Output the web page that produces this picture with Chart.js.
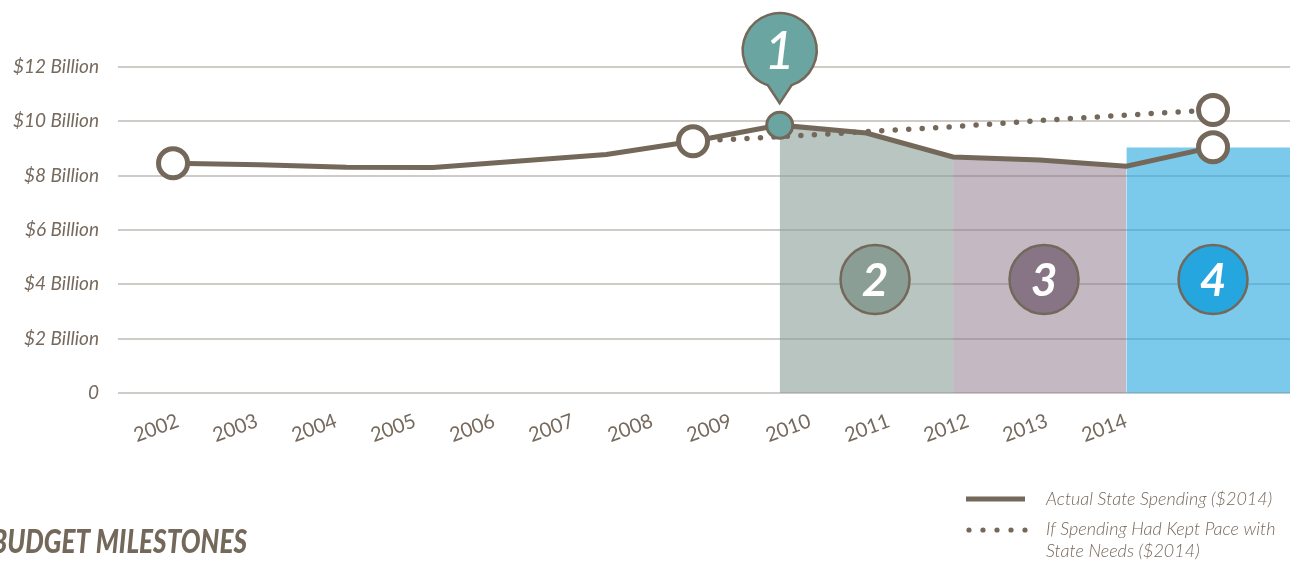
<!DOCTYPE html>
<html>
<head>
<meta charset="utf-8">
<title>State Spending</title>
<script src="https://cdn.jsdelivr.net/npm/chart.js@4.4.0/dist/chart.umd.min.js"></script>
<style>
  html, body { margin: 0; padding: 0; background: #fff; }
  #chart { display: block; }
</style>
</head>
<body>
<canvas id="chart" width="1290" height="563"></canvas>
<script>
// spending in billions of 2014 dollars
const years = [2002, 2003, 2004, 2005, 2006, 2007, 2008, 2009, 2010, 2011, 2012, 2013, 2014];
const actualSpending = [8.46, 8.40, 8.31, 8.30, 8.54, 8.78, 9.27, 9.86, 9.57, 8.69, 8.58, 8.35, 9.05];

// what spending would have been if it kept pace with needs
const needsYears = [2008, 2009, 2010, 2011, 2012, 2013, 2014];
const needsSpending = [9.27, 9.43, 9.62, 9.80, 10.03, 10.23, 10.42];

const yTicks = [0, 2, 4, 6, 8, 10, 12];
const yTickLabels = ['0', '$2 Billion', '$4 Billion', '$6 Billion', '$8 Billion', '$10 Billion', '$12 Billion'];

// milestone badges: 1 sits on 2009, 2-4 sit inside the shaded periods
const milestoneLabels = ['1', '2', '3', '4'];
const milestoneYears = [2009, 2010.1, 2012.05, 2014];
const milestoneColors = ['#6ba5a1', '#8b9e96', '#877585', '#25a6de'];
const badgeLevel = 4.18;

// shaded periods
const period2 = [2009, 2010, 2011];
const period3 = [2011, 2012, 2013];
const period4Start = 2013;
const period4Level = 9.04;

const BROWN = '#74685b';
const TEXT = '#76695d';

const pts = (ys) => ys.map(yr => ({ x: yr, y: actualSpending[years.indexOf(yr)] }));
const markerIdx = [0, 6, 7, 12];

const milestonePlugin = {
  id: 'milestones',
  afterDatasetsDraw(chart) {
    const { ctx, scales: { x, y } } = chart;
    ctx.save();
    milestoneLabels.forEach((label, i) => {
      const cx = x.getPixelForValue(milestoneYears[i]);
      let cy, r;
      ctx.beginPath();
      if (i === 0) {
        // balloon pointing at the 2009 point
        const py = y.getPixelForValue(actualSpending[years.indexOf(milestoneYears[0])]);
        const tip = py - 22;
        r = 37;
        cy = tip - 53;
        const a1 = Math.atan2(35, 12), a2 = Math.atan2(35, -12);
        ctx.moveTo(cx, tip);
        ctx.lineTo(cx + r * Math.cos(a1), cy + r * Math.sin(a1));
        ctx.arc(cx, cy, r, a1, a2, true);
        ctx.closePath();
      } else {
        r = 34.5;
        cy = y.getPixelForValue(badgeLevel);
        ctx.arc(cx, cy, r, 0, Math.PI * 2);
      }
      ctx.fillStyle = milestoneColors[i];
      ctx.fill();
      ctx.lineWidth = 2.5;
      ctx.strokeStyle = BROWN;
      ctx.stroke();

      ctx.fillStyle = '#fff';
      ctx.textAlign = 'center';
      ctx.textBaseline = 'middle';
      ctx.font = i === 0 ? 'italic 500 52px Lato' : 'italic bold 46px Lato';
      ctx.fillText(label, cx, cy + 2);
    });
    ctx.restore();
  },
  afterDraw(chart) {
    const { ctx } = chart;
    ctx.save();
    // legend
    ctx.strokeStyle = BROWN;
    ctx.lineWidth = 5;
    ctx.beginPath();
    ctx.moveTo(966, 499);
    ctx.lineTo(1025, 499);
    ctx.stroke();
    ctx.fillStyle = BROWN;
    for (let k = 0; k < 5; k++) {
      ctx.beginPath();
      ctx.arc(969 + k * 14, 530, 2.6, 0, Math.PI * 2);
      ctx.fill();
    }
    ctx.fillStyle = TEXT;
    ctx.font = 'italic 300 18px Lato';
    ctx.textAlign = 'left';
    ctx.textBaseline = 'middle';
    ctx.fillText('Actual State Spending ($2014)', 1046, 499);
    ctx.fillText('If Spending Had Kept Pace with', 1046, 529);
    ctx.fillText('State Needs ($2014)', 1046, 551);

    // section heading, cut at the left edge
    ctx.font = 'italic 900 32px Lato';
    ctx.textAlign = 'right';
    ctx.textBaseline = 'alphabetic';
    const w = ctx.measureText('BUDGET MILESTONES').width;
    ctx.translate(247, 553);
    ctx.scale(256 / w, 1);
    ctx.fillStyle = BROWN;
    ctx.fillText('BUDGET MILESTONES', 0, 0);
    ctx.restore();
  }
};

const ctx = document.getElementById('chart').getContext('2d');
const chart = new Chart(ctx, {
  type: 'line',
  data: {
    datasets: [
      {
        label: 'Actual State Spending ($2014)',
        data: years.map((yr, i) => ({ x: yr, y: actualSpending[i] })),
        borderColor: BROWN,
        borderWidth: 5,
        tension: 0,
        pointRadius: c => markerIdx.includes(c.dataIndex) ? (c.dataIndex === 7 ? 13 : 14.5) : 0,
        pointBorderWidth: c => c.dataIndex === 7 ? 3 : 5,
        pointBackgroundColor: c => c.dataIndex === 7 ? milestoneColors[0] : '#fff',
        pointBorderColor: BROWN,
        clip: false
      },
      {
        label: 'If Spending Had Kept Pace with State Needs ($2014)',
        data: needsYears.map((yr, i) => ({ x: yr, y: needsSpending[i] })),
        borderColor: BROWN,
        borderWidth: 5.5,
        borderDash: [0, 13.5],
        borderCapStyle: 'round',
        tension: 0,
        pointRadius: c => c.dataIndex === needsYears.length - 1 ? 14.5 : 0,
        pointBorderWidth: 5,
        pointBackgroundColor: '#fff',
        pointBorderColor: BROWN,
        clip: false
      },
      {
        data: pts(period2),
        borderWidth: 0,
        pointRadius: 0,
        fill: 'origin',
        backgroundColor: 'rgba(138,158,150,0.6)'
      },
      {
        data: pts(period3),
        borderWidth: 0,
        pointRadius: 0,
        fill: 'origin',
        backgroundColor: 'rgba(137,115,133,0.5)'
      },
      {
        data: [{ x: period4Start, y: period4Level }, { x: 2016, y: period4Level }],
        borderWidth: 0,
        pointRadius: 0,
        fill: 'origin',
        backgroundColor: 'rgba(37,167,222,0.6)'
      }
    ]
  },
  options: {
    responsive: false,
    animation: false,
    layout: { autoPadding: false, padding: { top: 67, left: 0, right: 0, bottom: 0 } },
    plugins: {
      legend: { display: false },
      tooltip: { enabled: false }
    },
    scales: {
      x: {
        type: 'linear',
        min: 2001.365,
        max: 2014.888,
        display: false
      },
      // year labels sit on their own scale
      xl: {
        type: 'linear',
        position: 'bottom',
        min: 2001.24,
        max: 2016.075,
        grid: { display: false, drawTicks: false },
        border: { display: false },
        afterBuildTicks: s => { s.ticks = years.map(v => ({ value: v })); },
        afterFit: s => {
          s.height = 170;
          s.paddingLeft = 0;
          s.paddingRight = 0;
        },
        ticks: {
          autoSkip: false,
          minRotation: 20,
          maxRotation: 20,
          padding: 16,
          color: TEXT,
          font: { family: 'Lato', size: 20, weight: 400 },
          callback: v => String(v)
        }
      },
      y: {
        min: 0,
        max: 12,
        afterBuildTicks: s => { s.ticks = yTicks.map(v => ({ value: v })); },
        afterFit: s => {
          s.width = 118;
          s.paddingTop = 0;
          s.paddingBottom = 0;
        },
        grid: { color: '#cfcbc7', lineWidth: 2, drawTicks: false },
        border: { display: false },
        ticks: {
          padding: 19,
          color: TEXT,
          font: { family: 'Lato', size: 19, style: 'italic', weight: 400 },
          callback: (v, i) => yTickLabels[i]
        }
      }
    }
  },
  plugins: [milestonePlugin]
});
</script>
</body>
</html>
